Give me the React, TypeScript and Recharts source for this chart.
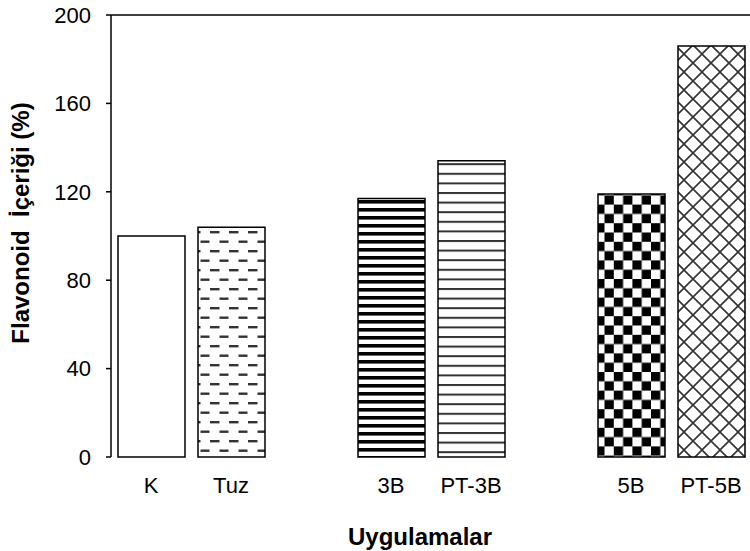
import { Bar, BarChart, Cell, Label, ReferenceLine, XAxis, YAxis } from "recharts";

// Uygulamalar (boş olanlar gruplar arası boşluk)
const categories = ["K", "Tuz", "", "3B", "PT-3B", "", "5B", "PT-5B"];
const values: (number | null)[] = [100, 104, null, 117, 134, null, 119, 186];
const yTicks = [0, 40, 80, 120, 160, 200];
const edgeTicks = [0, 1, 2, 3, 4, 5, 6, 7, 8];

const fills = [
  "#ffffff",
  "url(#pTuz)",
  "#ffffff",
  "url(#p3B)",
  "url(#pPT3B)",
  "#ffffff",
  "url(#p5B)",
  "url(#pPT5B)",
];

const data = categories.map((c, i) => ({ label: c, value: values[i] }));

const FONT = "'Liberation Sans', Arial, sans-serif";

function YTitle({ viewBox }: any) {
  const cy = viewBox.y + viewBox.height / 2 - 13;
  const cx = 29;
  return (
    <text
      x={cx}
      y={cy}
      transform={`rotate(-90, ${cx}, ${cy})`}
      textAnchor="middle"
      fontFamily={FONT}
      fontWeight="bold"
      fontSize={24}
      fill="#000"
      style={{ whiteSpace: "pre" }}
    >
      {"Flavonoid  İçeriği (%)"}
    </text>
  );
}

function XTitle({ viewBox }: any) {
  return (
    <text
      x={viewBox.x + viewBox.width / 2 - 11}
      y={viewBox.y + 88}
      textAnchor="middle"
      fontFamily={FONT}
      fontWeight="bold"
      fontSize={24}
      fill="#000"
    >
      Uygulamalar
    </text>
  );
}

export default function App() {
  return (
    <div
      style={{
        position: "absolute",
        left: 0,
        top: 0,
        width: 750,
        height: 551,
        overflow: "hidden",
        background: "#fff",
      }}
    >
      <BarChart
        width={751}
        height={551}
        data={data}
        margin={{ top: 15, right: 0, bottom: 0, left: 0 }}
        style={{ fontFamily: FONT }}
      >
        <defs>
          <pattern id="pTuz" width={19} height={19} patternUnits="userSpaceOnUse">
            <rect width={19} height={19} fill="#fff" />
            <rect x={1} y={3} width={9.5} height={2.4} fill="#333" />
            <rect x={10.5} y={12.5} width={9.5} height={2.4} fill="#333" />
            <rect x={-9} y={12.5} width={9.5} height={2.4} fill="#333" />
          </pattern>
          <pattern id="p3B" width={10} height={8} patternUnits="userSpaceOnUse">
            <rect width={10} height={8} fill="#fff" />
            <rect y={0} width={10} height={3.6} fill="#000" />
          </pattern>
          <pattern id="pPT3B" width={10} height={9.6} patternUnits="userSpaceOnUse">
            <rect width={10} height={9.6} fill="#fff" />
            <rect y={0} width={10} height={2} fill="#333" />
          </pattern>
          <pattern id="p5B" width={18.6} height={18.6} patternUnits="userSpaceOnUse">
            <rect width={18.6} height={18.6} fill="#fff" />
            <rect x={0} y={0} width={9.3} height={9.3} fill="#000" />
            <rect x={9.3} y={9.3} width={9.3} height={9.3} fill="#000" />
          </pattern>
          <pattern id="pPT5B" width={18} height={18} patternUnits="userSpaceOnUse">
            <rect width={18} height={18} fill="#fff" />
            <path d="M0 0 L18 18 M18 0 L0 18" stroke="#333" strokeWidth={1.6} />
          </pattern>
        </defs>
        <XAxis
          xAxisId="edges"
          type="number"
          domain={[0, 8]}
          ticks={edgeTicks}
          tickFormatter={() => ""}
          tickSize={5}
          height={0}
          axisLine={{ stroke: "#000", strokeWidth: 1.5 }}
          tickLine={{ stroke: "#000", strokeWidth: 1.5 }}
          allowDataOverflow
        />
        <XAxis
          xAxisId="cat"
          dataKey="label"
          height={94}
          axisLine={false}
          tickLine={false}
          tickSize={5}
          tickMargin={15}
          interval={0}
          tick={{ fill: "#000", fontSize: 22, fontFamily: FONT }}
        >
          <Label content={<XTitle />} />
        </XAxis>
        <YAxis
          width={111}
          domain={[0, 200]}
          ticks={yTicks}
          interval={0}
          tickSize={5}
          tickMargin={15}
          axisLine={{ stroke: "#000", strokeWidth: 1.5 }}
          tickLine={{ stroke: "#000", strokeWidth: 1.5 }}
          tick={{ fill: "#000", fontSize: 22, fontFamily: FONT }}
        >
          <Label content={<YTitle />} />
        </YAxis>
        <ReferenceLine y={200} xAxisId="cat" stroke="#000" strokeWidth={1.5} />
        <Bar
          dataKey="value"
          xAxisId="cat"
          barSize={67}
          stroke="#000"
          strokeWidth={1.5}
          isAnimationActive={false}
        >
          {data.map((d, i) => (
            <Cell key={i} fill={fills[i]} />
          ))}
        </Bar>
      </BarChart>
    </div>
  );
}
